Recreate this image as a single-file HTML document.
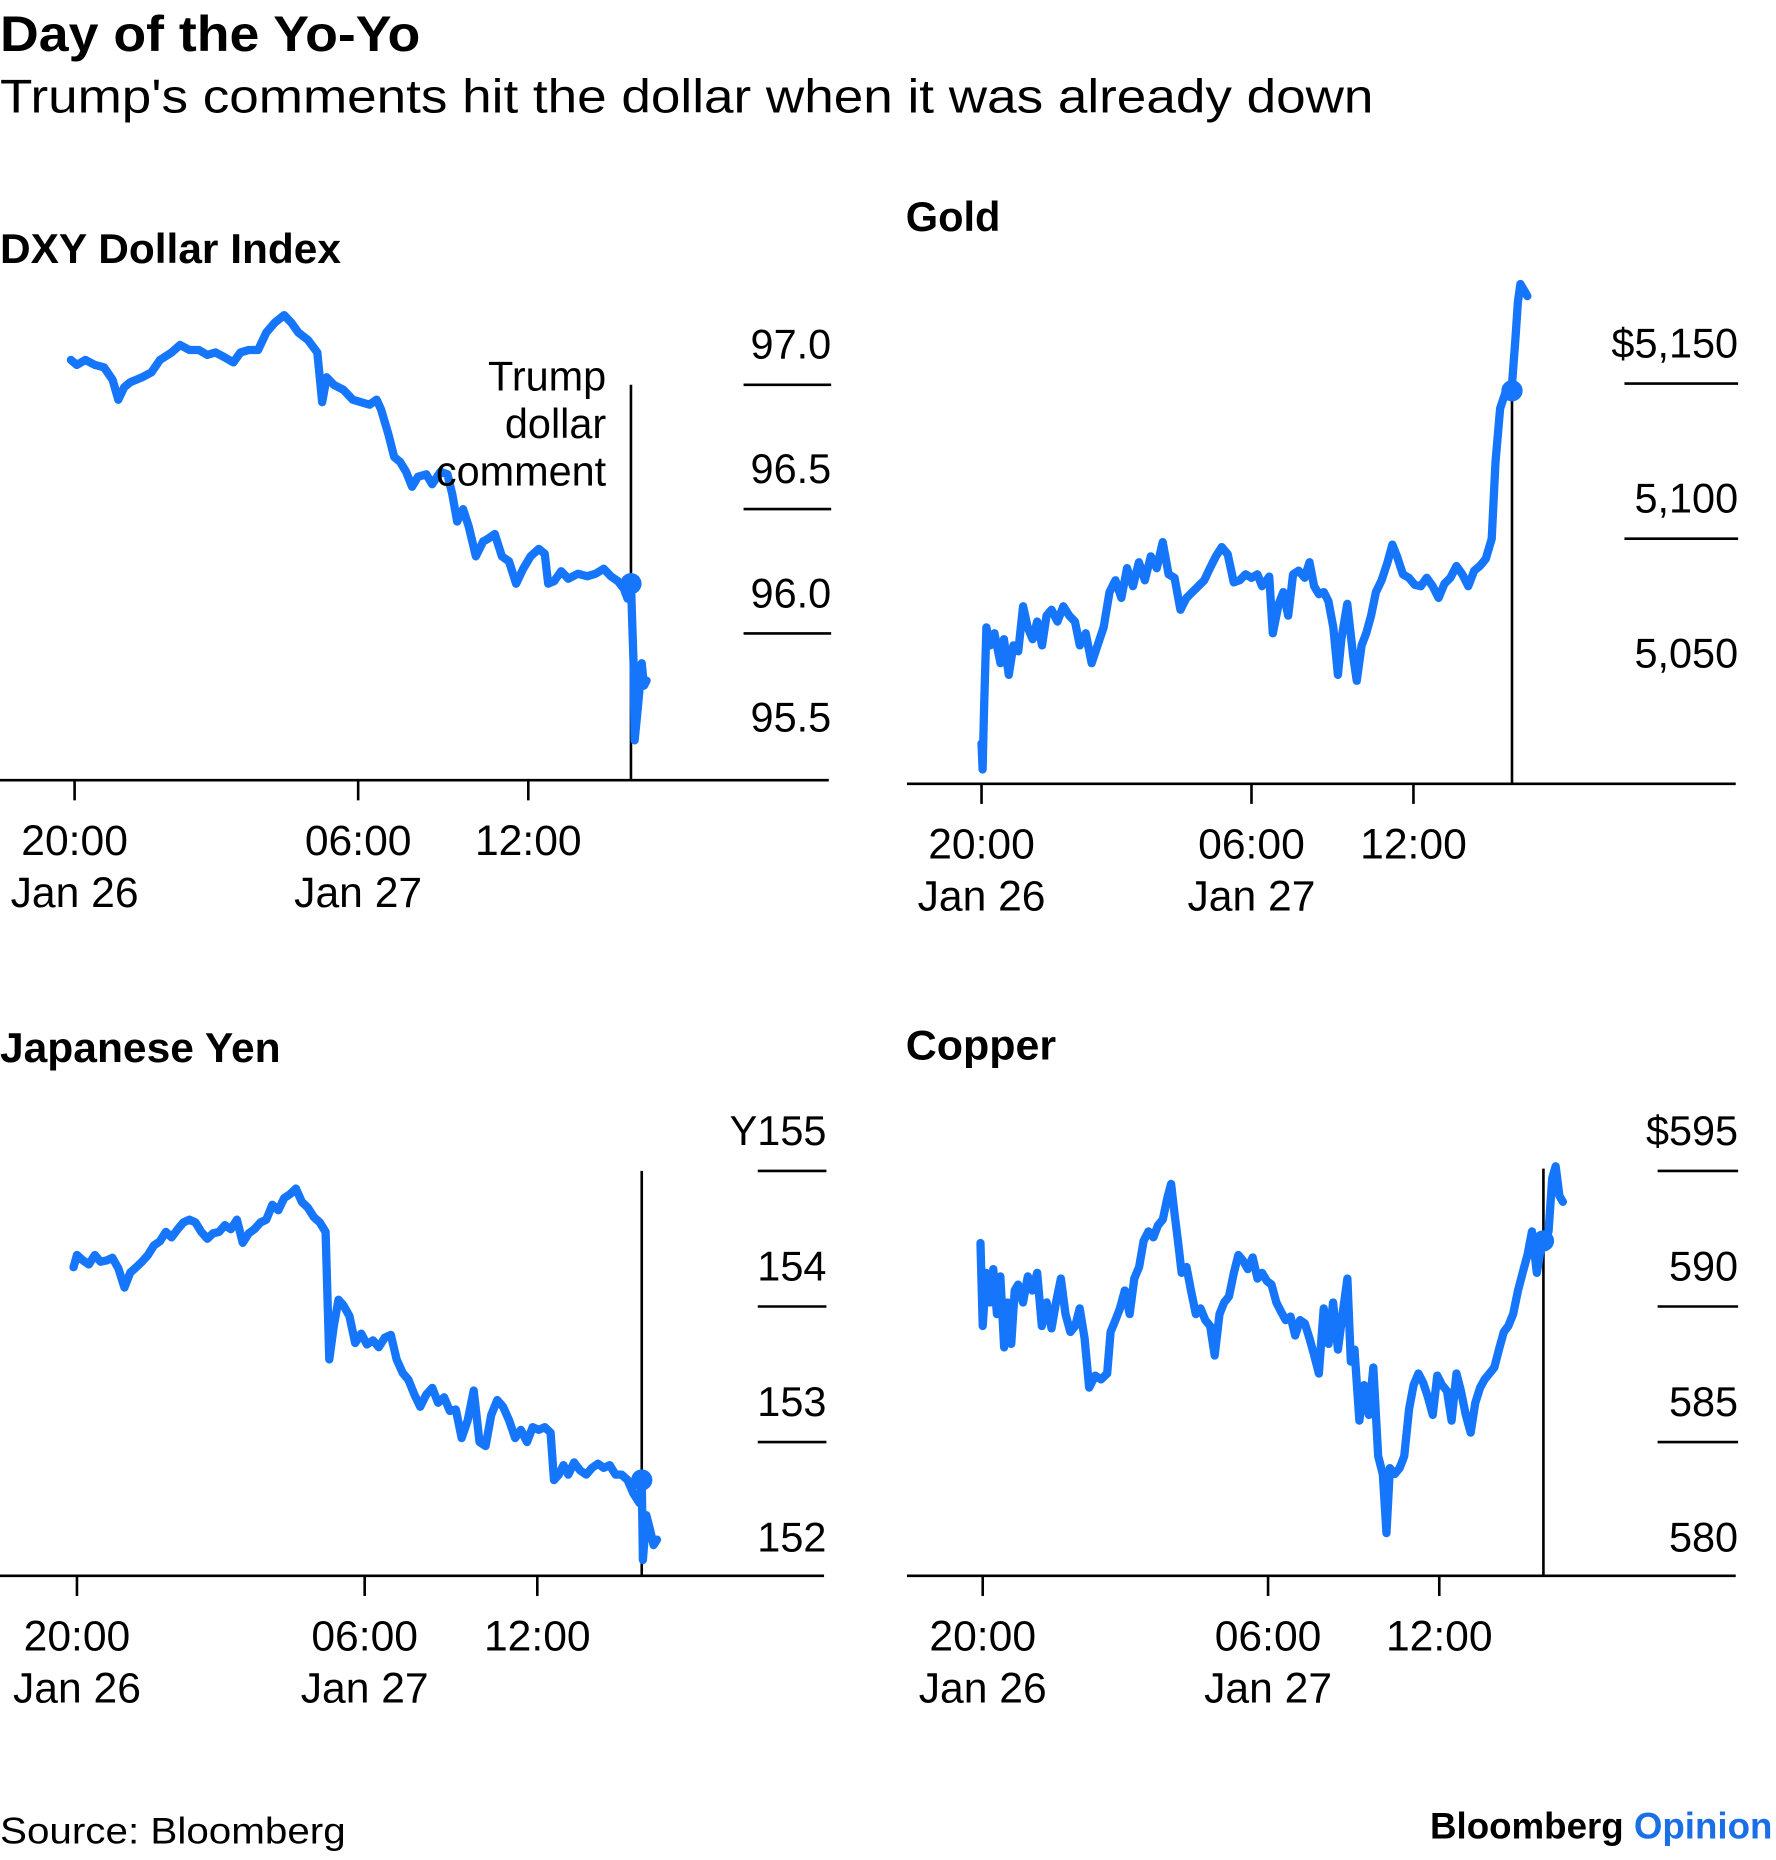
<!DOCTYPE html>
<html>
<head>
<meta charset="utf-8">
<style>
html,body{margin:0;padding:0;background:#fff;}
svg{display:block;font-family:"Liberation Sans",Arial,sans-serif;}
</style>
</head>
<body>
<svg id="root" width="1776" height="1860" viewBox="0 0 1500 1571" preserveAspectRatio="none" xmlns="http://www.w3.org/2000/svg">
  <rect x="0" y="0" width="1500" height="1571" fill="#fff"/>
  <text x="0" y="43" font-size="42" font-weight="bold" fill="#000" textLength="355" lengthAdjust="spacingAndGlyphs">Day of the Yo-Yo</text>
  <text x="0" y="95" font-size="40" fill="#000" textLength="1160" lengthAdjust="spacingAndGlyphs">Trump's comments hit the dollar when it was already down</text>
  <text x="0" y="1557" font-size="31" fill="#000" textLength="292" lengthAdjust="spacingAndGlyphs">Source: Bloomberg</text>
  <text x="1497" y="1553" font-size="31" font-weight="bold" text-anchor="end"><tspan fill="#000">Bloomberg </tspan><tspan fill="#1a6fe6">Opinion</tspan></text>
  <g id="charts"></g>
</svg>
<script>
// ---- DXY Dollar Index ----
const dxyTimes = [-0.13,0.08,0.38,0.71,1.04,1.34,1.54,1.75,1.96,2.38,2.71,3.01,3.42,3.72,4.05,4.38,4.68,4.97,5.30,5.60,5.85,6.14,6.47,6.76,7.06,7.39,7.64,7.89,8.23,8.56,8.73,8.89,9.14,9.48,9.81,10.10,10.40,10.65,10.81,11.07,11.27,11.48,11.69,11.90,12.11,12.40,12.61,12.90,13.15,13.32,13.49,13.70,13.90,14.15,14.41,14.57,14.82,15.07,15.32,15.57,15.82,16.08,16.37,16.58,16.70,16.91,17.16,17.41,17.75,18.08,18.37,18.66,18.91,19.16,19.37,19.50,19.62,19.71,19.75,19.87,20.00,20.08,20.17];
const dxyValues = [97.10,97.08,97.10,97.08,97.07,97.02,96.94,96.99,97.01,97.03,97.05,97.10,97.13,97.16,97.14,97.14,97.12,97.13,97.11,97.09,97.13,97.14,97.14,97.21,97.25,97.28,97.25,97.21,97.18,97.13,96.93,97.03,97.00,96.98,96.94,96.93,96.92,96.94,96.90,96.80,96.71,96.69,96.65,96.59,96.63,96.64,96.60,96.65,96.64,96.56,96.45,96.50,96.43,96.31,96.37,96.38,96.40,96.31,96.29,96.20,96.26,96.31,96.34,96.32,96.20,96.21,96.25,96.22,96.24,96.23,96.24,96.26,96.23,96.21,96.18,96.14,96.20,95.88,95.57,95.71,95.88,95.79,95.81];
const dxyTickValues = [97.0,96.5,96.0,95.5];
const dxyTickLabels = ["97.0","96.5","96.0","95.5"];
const dxyEvent = [19.62, 96.20];

// ---- Gold ----
const goldTimes = [0,0.04,0.09,0.18,0.31,0.48,0.70,0.83,1.01,1.18,1.36,1.54,1.71,1.89,2.06,2.24,2.41,2.59,2.81,3.03,3.25,3.46,3.64,3.86,4.08,4.30,4.52,4.74,4.96,5.18,5.39,5.61,5.83,6.05,6.27,6.49,6.71,6.93,7.15,7.37,7.59,7.81,8.03,8.25,8.46,8.68,8.90,9.12,9.34,9.56,9.78,10.00,10.22,10.39,10.66,10.79,11.01,11.18,11.36,11.54,11.75,11.97,12.15,12.32,12.50,12.68,12.85,13.03,13.20,13.33,13.55,13.77,13.90,14.08,14.25,14.43,14.61,14.82,15.04,15.22,15.39,15.61,15.83,16.05,16.27,16.49,16.71,16.93,17.15,17.37,17.59,17.81,18.03,18.25,18.46,18.68,18.90,19.04,19.21,19.43,19.65,19.78,19.87,19.96,20.09,20.22];
const goldValues = [5034.0,5025.6,5044.7,5071.4,5065.6,5069.5,5059.9,5067.6,5056.1,5065.6,5063.7,5078.2,5071.4,5067.6,5073.3,5065.6,5075.2,5077.1,5073.3,5078.2,5075.2,5073.3,5065.6,5069.5,5059.9,5065.6,5071.4,5082.8,5086.6,5080.9,5090.5,5084.7,5092.4,5086.6,5094.3,5090.5,5098.9,5088.5,5087.4,5077.1,5080.9,5082.8,5084.7,5086.6,5090.5,5094.3,5097.3,5095.0,5085.9,5086.6,5088.5,5087.4,5088.5,5084.7,5087.8,5069.5,5079.0,5082.8,5075.2,5088.5,5089.7,5087.4,5092.4,5084.7,5082.1,5082.8,5079.8,5071.4,5056.1,5067.6,5079.0,5061.8,5054.2,5065.6,5069.5,5075.2,5082.8,5086.6,5092.4,5098.1,5094.3,5088.5,5087.4,5085.1,5084.7,5087.4,5084.7,5080.9,5085.5,5087.4,5091.2,5088.5,5084.7,5089.7,5091.2,5093.5,5100.0,5124.8,5142.0,5147.7,5149.6,5164.9,5176.3,5182.1,5180.2,5178.2];
const goldTickValues = [5150,5100,5050];
const goldTickLabels = ["$5,150","5,100","5,050"];
const goldEvent = [19.65, 5147.7];

// ---- Japanese Yen ----
const yenTimes = [-0.12,0,0.21,0.41,0.62,0.82,1.03,1.23,1.44,1.65,1.85,2.06,2.26,2.47,2.67,2.88,3.09,3.29,3.50,3.70,3.91,4.12,4.32,4.53,4.73,4.94,5.14,5.35,5.56,5.76,5.97,6.17,6.38,6.58,6.79,7.00,7.20,7.41,7.61,7.82,8.02,8.23,8.44,8.64,8.77,8.93,9.09,9.26,9.47,9.67,9.88,10.08,10.29,10.49,10.70,10.91,11.11,11.32,11.52,11.73,11.93,12.14,12.35,12.55,12.76,12.96,13.17,13.37,13.58,13.79,13.99,14.20,14.40,14.61,14.81,15.02,15.23,15.43,15.64,15.84,16.05,16.26,16.46,16.58,16.75,16.91,17.08,17.28,17.49,17.70,17.90,18.11,18.31,18.52,18.72,18.93,19.14,19.34,19.55,19.63,19.67,19.79,19.92,20.04,20.16];
const yenValues = [154.29,154.38,154.34,154.31,154.38,154.33,154.34,154.36,154.28,154.14,154.25,154.29,154.33,154.38,154.45,154.48,154.55,154.51,154.57,154.62,154.64,154.62,154.55,154.50,154.54,154.55,154.60,154.57,154.64,154.47,154.54,154.57,154.62,154.64,154.75,154.71,154.80,154.83,154.87,154.77,154.73,154.66,154.62,154.55,153.61,153.86,154.05,154.01,153.93,153.73,153.80,153.72,153.75,153.70,153.77,153.79,153.61,153.51,153.46,153.35,153.26,153.35,153.40,153.29,153.33,153.23,153.24,153.03,153.16,153.38,153.00,152.97,153.20,153.31,153.26,153.16,153.03,153.09,153.00,153.11,153.09,153.11,153.07,152.72,152.76,152.83,152.76,152.85,152.79,152.76,152.81,152.84,152.81,152.83,152.76,152.76,152.72,152.62,152.55,152.72,152.13,152.46,152.35,152.24,152.28];
const yenTickValues = [155,154,153,152];
const yenTickLabels = ["Y155","154","153","152"];
const yenEvent = [19.63, 152.72];

// ---- Copper ----
const copperTimes = [-0.08,0,0.12,0.25,0.37,0.50,0.62,0.75,0.87,1.00,1.12,1.24,1.41,1.58,1.74,1.91,2.07,2.24,2.41,2.57,2.74,2.90,3.07,3.24,3.40,3.57,3.73,3.94,4.15,4.36,4.48,4.65,4.81,4.98,5.15,5.31,5.48,5.64,5.81,5.98,6.14,6.31,6.47,6.60,6.72,6.85,6.97,7.14,7.30,7.47,7.63,7.80,7.97,8.13,8.30,8.46,8.63,8.80,8.96,9.13,9.29,9.46,9.63,9.79,9.96,10.12,10.29,10.46,10.62,10.79,10.95,11.12,11.29,11.45,11.62,11.78,11.95,12.12,12.28,12.45,12.61,12.78,12.90,13.03,13.20,13.36,13.53,13.69,13.86,14.02,14.15,14.27,14.44,14.61,14.77,14.94,15.10,15.27,15.44,15.60,15.77,15.93,16.10,16.27,16.43,16.60,16.76,16.93,17.10,17.26,17.43,17.59,17.76,17.93,18.09,18.26,18.42,18.59,18.76,18.92,19.09,19.25,19.42,19.59,19.71,19.83,19.96,20.08,20.21,20.33];
const copperValues = [592.34,589.28,591.24,590.15,591.38,589.72,591.11,588.49,590.15,588.62,590.59,590.81,590.15,591.11,590.59,591.24,589.28,590.15,589.19,590.15,591.03,589.72,589.06,589.28,589.93,588.84,587.01,587.45,587.31,587.53,589.06,589.50,589.93,590.59,589.72,591.03,591.46,592.42,592.77,592.55,592.99,593.21,594.00,594.52,593.43,592.34,591.24,591.46,590.59,589.72,589.93,589.50,589.28,588.19,589.72,590.15,590.37,591.24,591.90,591.68,591.38,591.81,591.03,591.24,590.94,590.81,590.15,589.80,589.50,589.63,588.93,589.50,589.37,588.84,588.19,587.53,589.93,588.62,590.15,588.41,589.72,591.03,587.97,588.41,585.79,587.10,586.00,587.75,584.48,583.82,581.64,584.04,583.82,584.04,584.48,586.22,587.10,587.53,587.18,586.66,586.00,587.45,587.10,586.88,585.79,587.53,586.88,586.00,585.35,586.44,587.01,587.31,587.53,587.75,588.41,589.06,589.28,589.72,590.59,591.24,591.90,592.77,591.24,592.34,592.42,592.77,594.74,595.17,594.08,593.86];
const copperTickValues = [595,590,585,580];
const copperTickLabels = ["$595","590","585","580"];
const copperEvent = [19.65, 592.42];

const NS = "http://www.w3.org/2000/svg";
const root = document.getElementById('charts');
function mk(tag, attrs, parent) {
  const e = document.createElementNS(NS, tag);
  for (const k in attrs) e.setAttribute(k, attrs[k]);
  (parent || root).appendChild(e);
  return e;
}

const panels = [
  {key:'dxy', title:'DXY Dollar Index', titleW:288, titleX:0, titleY:222, times:dxyTimes, values:dxyValues, tickV:dxyTickValues, tickL:dxyTickLabels, ev:dxyEvent, gridN:3,
   x0:63, pxh:23.95, refV:97.0, refY:325, pxu:210, axisL:0, axisR:700, base:659, gridL:628, gridR:702, evTop:325, annot:true},
  {key:'gold', title:'Gold', titleW:80, titleX:765, titleY:195, times:goldTimes, values:goldValues, tickV:goldTickValues, tickL:goldTickLabels, ev:goldEvent, gridN:2,
   x0:829, pxh:22.8, refV:5150, refY:324, pxu:131/50, axisL:766, axisR:1466, base:662, gridL:1372, gridR:1468, evTop:null},
  {key:'yen', title:'Japanese Yen', titleW:237, titleX:0, titleY:897, times:yenTimes, values:yenValues, tickV:yenTickValues, tickL:yenTickLabels, ev:yenEvent, gridN:3,
   x0:65, pxh:24.3, refV:155, refY:989, pxu:114.5, axisL:0, axisR:696, base:1331, gridL:640, gridR:698, evTop:989},
  {key:'copper', title:'Copper', titleW:127, titleX:765, titleY:895, times:copperTimes, values:copperValues, tickV:copperTickValues, tickL:copperTickLabels, ev:copperEvent, gridN:3,
   x0:830, pxh:24.1, refV:595, refY:989, pxu:22.9, axisL:766, axisR:1466, base:1331, gridL:1400, gridR:1468, evTop:987}
];
const xTicks = [0, 10, 16];
const xTickTop = ["20:00","06:00","12:00"];
const xTickBottom = ["Jan 26","Jan 27",""];

panels.forEach(p => {
  const g = mk('g', {});
  
  
  const xs = t => p.x0 + t * p.pxh;
  const ys = v => p.refY + (p.refV - v) * p.pxu;

  const tt = mk('text', {x:p.titleX, y:p.titleY, 'font-size':35, 'font-weight':'bold', fill:'#000', textLength:p.titleW, lengthAdjust:'spacingAndGlyphs'}, g);
  tt.textContent = p.title;
  
  

  p.tickV.forEach((v, i) => {
    const y = ys(v);
    if (i < p.gridN) {
      const ln = mk('line', {x1:p.gridL, x2:p.gridR, y1:y, y2:y, stroke:'#000', 'stroke-width':2.2}, g);
      
      
    }
    const lb = mk('text', {x:p.gridR, y:y - 22, 'font-size':35, 'text-anchor':'end', fill:'#000'}, g);
    lb.textContent = p.tickL[i];
    
    
  });

  const ax = mk('line', {x1:p.axisL, x2:p.axisR, y1:p.base, y2:p.base, stroke:'#000', 'stroke-width':2.2}, g);
  
  
  xTicks.forEach((t, i) => {
    const x = xs(t);
    const tk = mk('line', {x1:x, x2:x, y1:p.base, y2:p.base + 17, stroke:'#000', 'stroke-width':2.2}, g);
    
    
    const l1 = mk('text', {x:x, y:p.base + 63, 'font-size':36, 'text-anchor':'middle', fill:'#000'}, g);
    l1.textContent = xTickTop[i];
    
    
    if (xTickBottom[i]) {
      const l2 = mk('text', {x:x, y:p.base + 107, 'font-size':36, 'text-anchor':'middle', fill:'#000'}, g);
      l2.textContent = xTickBottom[i];
      
      
    }
  });

  const ex = xs(p.ev[0]);
  const ey = ys(p.ev[1]);
  const top = p.evTop === null ? ey : p.evTop;
  const vl = mk('line', {x1:ex, x2:ex, y1:top, y2:p.base, stroke:'#000', 'stroke-width':2.2}, g);
  
  

  let d = '';
  p.times.forEach((t, i) => { d += (i ? 'L' : 'M') + xs(t).toFixed(1) + ',' + ys(p.values[i]).toFixed(1); });
  const path = mk('path', {d:d, fill:'none', stroke:'#1676fb', 'stroke-width':7, 'stroke-linejoin':'round', 'stroke-linecap':'round'}, g);
  
  

  const dot = mk('circle', {cx:ex, cy:ey, r:9, fill:'#1676fb'}, g);
  
  

  if (p.annot) {
    const lines = ['Trump', 'dollar', 'comment'];
    lines.forEach((s, i) => {
      const a = mk('text', {x:512, y:330 + i * 40, 'font-size':35, 'text-anchor':'end', fill:'#000'}, g);
      a.textContent = s;
      
      
    });
  }
});
</script>
</body>
</html>
